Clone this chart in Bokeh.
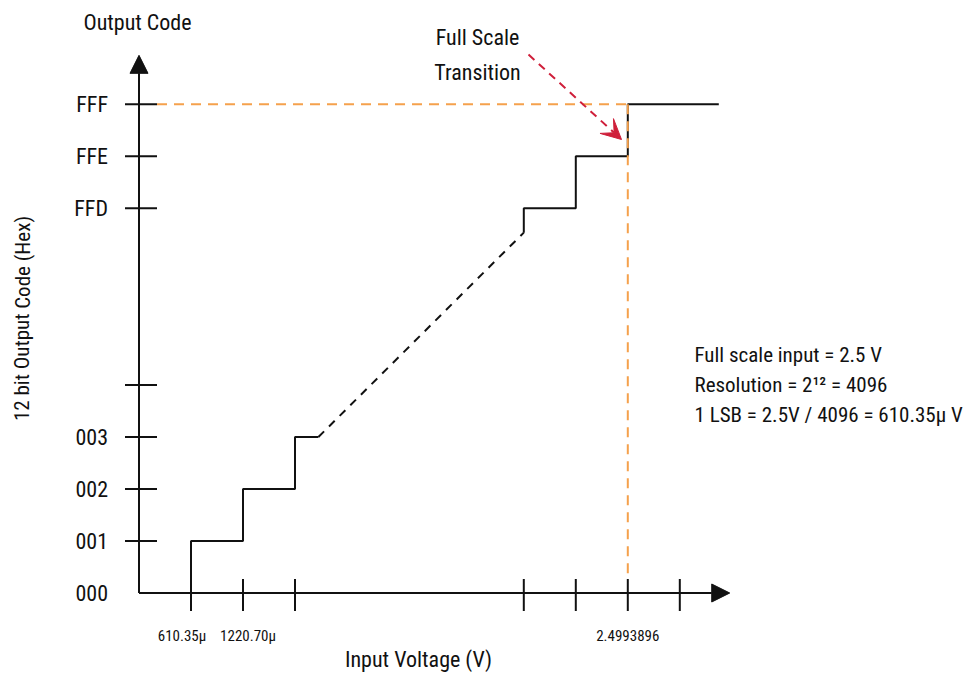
from bokeh.plotting import figure
from bokeh.models import Arrow, NormalHead, VeeHead, Range1d
from bokeh.core.properties import value
from bokeh.embed import file_html
from bokeh.resources import INLINE

# ---------------- data (units = LSB steps; both axes are broken between 4 and 7.4) -------------
x_tick_pos = [1, 2, 3, 7.4, 8.4, 9.4, 10.4]
x_tick_labels = ["610.35µ", "1220.70µ", "", "", "", "2.4993896", ""]
y_tick_pos = [1, 2, 3, 4, 7.4, 8.4, 9.4]
y_tick_labels = ["001", "002", "003", "", "FFD", "FFE", "FFF"]
y_zero_label = "000"

low_step_x = [1, 1, 2, 2, 3, 3, 3.45]
low_step_y = [0, 1, 1, 2, 2, 3, 3]
bridge_x = [3.45, 7.4]
bridge_y = [3, 6.93]
high_step_x = [7.4, 7.4, 8.4, 8.4, 9.4, 9.4, 11.15]
high_step_y = [6.93, 7.4, 7.4, 8.4, 8.4, 9.4, 9.4]
full_scale_x = 9.4
full_scale_y = 9.4

x_axis_end = 11.36
y_axis_end = 10.34

info_lines = ["Full scale input = 2.5 V",
              "Resolution = 2¹² = 4096",
              "1 LSB = 2.5V / 4096 = 610.35µ V"]

# ---------------- layout ----------------
FONT = "Roboto Condensed, DejaVu Sans Condensed, Liberation Sans"
W, H = 966, 675
PX = 52.0                       # pixels per unit
OX, OY = 138.5, 592.5           # origin position inside the canvas (px from left / top)
X_LABEL_SHIFT = [-9, 5, 0, 0, 0, 0, 0]   # px nudges of the x tick labels (as drawn in the original)


def u(px):
    return px / PX


def ux(px):      # canvas x pixel -> data
    return (px - OX) / PX


def uy(px):      # canvas y pixel -> data
    return (OY - px) / PX


p = figure(width=W, height=H, output_backend="svg", toolbar_location=None,
           x_range=Range1d(-OX / PX, (W - OX) / PX),
           y_range=Range1d(-(H - OY) / PX, OY / PX),
           x_axis_location=None, y_axis_location=None, min_border=0)
p.grid.visible = False
p.outline_line_color = None
p.background_fill_color = "white"
p.border_fill_color = "white"

BLACK = "#111111"
ORANGE = "#f5a14c"
RED = "#cf1f3a"

# axes with arrow heads
p.add_layout(Arrow(x_start=0, y_start=0, x_end=x_axis_end, y_end=0, line_width=2, line_color=BLACK,
                   end=NormalHead(size=18, fill_color=BLACK, line_color=BLACK, line_width=1)))
p.add_layout(Arrow(x_start=0, y_start=0, x_end=0, y_end=y_axis_end, line_width=2, line_color=BLACK,
                   end=NormalHead(size=18, fill_color=BLACK, line_color=BLACK, line_width=1)))

# tick marks
p.segment(x0=[u(-14)] * len(y_tick_pos), x1=[u(18)] * len(y_tick_pos), y0=y_tick_pos, y1=y_tick_pos,
          line_color=BLACK, line_width=2)
p.segment(x0=x_tick_pos, x1=x_tick_pos, y0=[u(-18)] * len(x_tick_pos), y1=[u(14)] * len(x_tick_pos),
          line_color=BLACK, line_width=2)

# transfer function
p.line(low_step_x, low_step_y, line_color=BLACK, line_width=2)
p.line(bridge_x, bridge_y, line_color=BLACK, line_width=2, line_dash="8 7")
p.line(high_step_x, high_step_y, line_color=BLACK, line_width=2)

# full-scale guides
p.line([u(18), full_scale_x], [full_scale_y, full_scale_y], line_color=ORANGE, line_width=2, line_dash="10 7")
p.line([full_scale_x, full_scale_x], [full_scale_y, u(14)], line_color=ORANGE, line_width=2, line_dash="10 7")

# red annotation arrow
p.add_layout(Arrow(x_start=ux(528), y_start=uy(54), x_end=ux(621), y_end=uy(139),
                   line_color=RED, line_width=2, line_dash="8 6",
                   end=VeeHead(size=20, fill_color=RED, line_color=RED, line_width=1)))

# tick labels
p.text(x=[u(-31)] * (len(y_tick_pos) + 1), y=y_tick_pos + [0], text=y_tick_labels + [y_zero_label],
       text_align="right", text_baseline="middle", text_font=value(FONT), text_font_size="22px",
       text_color=BLACK)
p.text(x=[xp + u(s) for xp, s in zip(x_tick_pos, X_LABEL_SHIFT)], y=[uy(635)] * len(x_tick_pos),
       text=x_tick_labels, text_align="center", text_baseline="alphabetic", text_font=value(FONT),
       text_font_size="15px", text_color=BLACK)

# titles
p.text(x=[ux(137)], y=[uy(22)], text=["Output Code"], text_align="center",
       text_baseline="middle", text_font=value(FONT), text_font_size="22px", text_color=BLACK)
p.text(x=[ux(22)], y=[uy(318)], text=["12 bit Output Code (Hex)"], angle=1.5707963,
       text_align="center", text_baseline="middle", text_font=value(FONT), text_font_size="21px",
       text_color=BLACK)
p.text(x=[ux(418)], y=[uy(659)], text=["Input Voltage (V)"], text_align="center",
       text_baseline="middle", text_font=value(FONT), text_font_size="22px", text_color=BLACK)
p.text(x=[ux(477)] * 2, y=[uy(37), uy(72)], text=["Full Scale", "Transition"],
       text_align="center", text_baseline="middle", text_font=value(FONT), text_font_size="22px",
       text_color=BLACK)
p.text(x=[ux(694)] * 3, y=[uy(354), uy(384), uy(414)], text=info_lines,
       text_align="left", text_baseline="middle", text_font=value(FONT), text_font_size="21px",
       text_color=BLACK)

open("out.html", "w").write(file_html(p, INLINE))
